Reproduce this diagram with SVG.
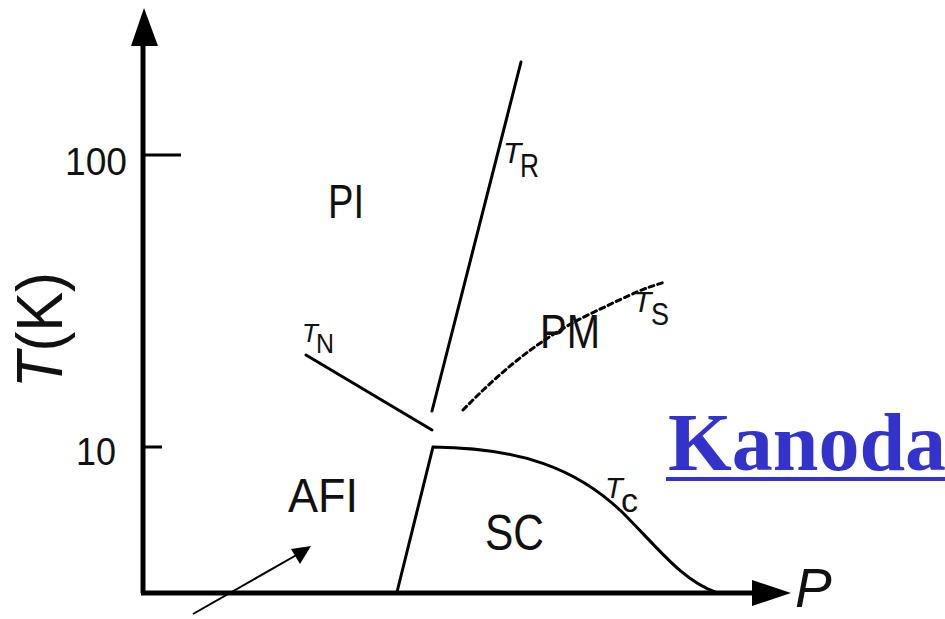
<svg xmlns="http://www.w3.org/2000/svg" width="945" height="619" viewBox="0 0 945 619">
<style>
.ax{stroke:#000;stroke-width:5;fill:none}
.ln{stroke:#000;stroke-width:3;fill:none;stroke-linecap:round}
.lbl{font-family:"Liberation Sans",Arial,sans-serif;fill:#111}
.it{font-style:italic}
</style>
<rect width="945" height="619" fill="#fff"/>
<g id="axes">
<line class="ax" x1="143" y1="40" x2="143" y2="593"/>
<line class="ax" x1="141" y1="593" x2="756" y2="593"/>
<polygon points="144,8 131,46 158,46" fill="#000"/>
<polygon points="791,593 752,580 752,606" fill="#000"/>
<line x1="143" y1="155" x2="181" y2="155" stroke="#000" stroke-width="3"/>
<line x1="143" y1="447" x2="162" y2="447" stroke="#000" stroke-width="3"/>
<text class="lbl" x="65" y="175" font-size="39" textLength="62" lengthAdjust="spacingAndGlyphs">100</text>
<text class="lbl" x="76" y="465" font-size="38" textLength="40" lengthAdjust="spacingAndGlyphs">10</text>
<text class="lbl" font-size="64" transform="translate(62,388) rotate(-90)" textLength="116" lengthAdjust="spacingAndGlyphs"><tspan class="it">T</tspan>(K)</text>
<text class="lbl it" x="795" y="607" font-size="55">P</text>
</g>
<g id="connectors">
<line class="ln" x1="432" y1="411" x2="521" y2="62"/>
<line class="ln" x1="306" y1="355" x2="432" y2="430" stroke-width="3.5"/>
<path class="ln" d="M463,410 C500,372 540,338 590,314 S640,290 665,282" stroke-dasharray="5,4" stroke-linecap="butt" stroke-width="2.5"/>
<path class="ln" d="M397,592 L433,447 C520,448 576,468 622,512 C660,550 682,580 715,592"/>
<line x1="193" y1="614" x2="300" y2="553" stroke="#000" stroke-width="2"/>
<polygon points="311,546 291,549 300,564" fill="#000"/>
</g>
<g id="PI"><text class="lbl" x="328" y="218" font-size="48" textLength="36" lengthAdjust="spacingAndGlyphs">PI</text></g>
<g id="PM"><text class="lbl" x="540" y="348" font-size="48" textLength="60" lengthAdjust="spacingAndGlyphs">PM</text></g>
<g id="AFI"><text class="lbl" x="288" y="512" font-size="48" textLength="70" lengthAdjust="spacingAndGlyphs">AFI</text></g>
<g id="SC"><text class="lbl" x="485" y="550" font-size="50" textLength="59" lengthAdjust="spacingAndGlyphs">SC</text></g>
<g id="TN"><text class="lbl it" x="302" y="342" font-size="26">T</text><text class="lbl" x="316" y="353" font-size="28" textLength="18" lengthAdjust="spacingAndGlyphs">N</text></g>
<g id="TR"><text class="lbl it" x="503" y="163" font-size="30">T</text><text class="lbl" x="520" y="177" font-size="34" textLength="19" lengthAdjust="spacingAndGlyphs">R</text></g>
<g id="TS"><text class="lbl it" x="633" y="312" font-size="30">T</text><text class="lbl" x="651" y="325" font-size="32" textLength="18" lengthAdjust="spacingAndGlyphs">S</text></g>
<g id="Tc"><text class="lbl it" x="605" y="498" font-size="29">T</text><text class="lbl" x="621" y="512" font-size="33" textLength="17" lengthAdjust="spacingAndGlyphs">c</text></g>
<g id="Kanoda">
<text x="668" y="470" font-family="'Liberation Serif','Times New Roman',serif" font-weight="bold" font-size="82" fill="#3333CC">Kanoda</text>
<rect x="666" y="477" width="279" height="4" fill="#3333CC"/>
</g>
</svg>
